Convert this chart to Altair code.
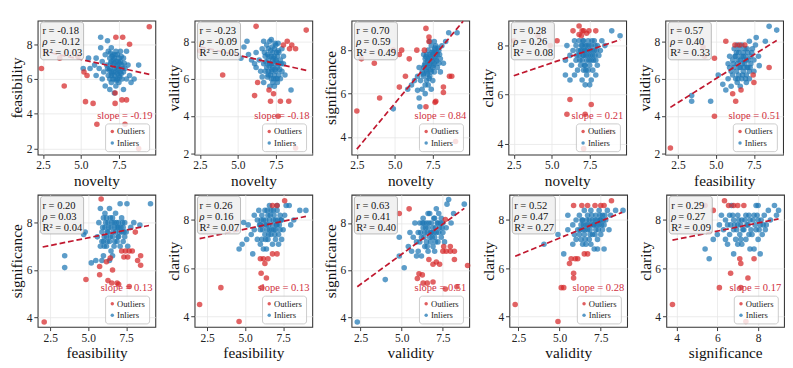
import altair as alt
import pandas as pd

FONT = "Liberation Serif"
RED = "#d62728"
BLUE = "#1f77b4"
LINE = "#c0182f"
SLOPE_TXT = "#d03040"

x_names = ["novelty", "novelty", "novelty", "novelty", "feasibility",
           "feasibility", "feasibility", "validity", "validity", "significance"]
y_names = ["feasibility", "validity", "significance", "clarity", "validity",
           "significance", "clarity", "significance", "clarity", "clarity"]

r_vals = ["-0.18", "-0.23", "0.70", "0.28", "0.57", "0.20", "0.26", "0.63", "0.52", "0.29"]
rho_vals = ["-0.12", "-0.09", "0.59", "0.26", "0.40", "0.03", "0.16", "0.41", "0.47", "0.27"]
r2_vals = ["0.03", "0.05", "0.49", "0.08", "0.33", "0.04", "0.07", "0.40", "0.27", "0.09"]
slope_vals = ["-0.19", "-0.18", "0.84", "0.21", "0.51", "0.13", "0.13", "0.51", "0.28", "0.17"]

# regression line end points (x0, y0, x1, y1)
line_x0 = [2.5, 2.5, 2.5, 2.5, 2.0, 2.0, 2.0, 2.3, 2.3, 3.8]
line_y0 = [7.60, 7.71, 3.45, 6.77, 4.47, 6.97, 7.23, 5.30, 6.50, 7.17]
line_x1 = [9.5, 9.5, 9.5, 9.5, 9.0, 9.0, 9.0, 8.8, 8.8, 9.0]
line_y1 = [6.27, 6.45, 9.33, 8.24, 8.05, 7.88, 8.15, 8.62, 8.32, 8.05]

axis_range = {
    "novelty": [2.15, 9.9],
    "feasibility_x": [1.67, 9.42],
    "validity_x": [1.95, 9.1],
    "significance_x": [3.5, 9.27],
}
y_ranges = [[1.66, 9.36], [1.95, 9.11], [3.2, 9.36], [3.56, 9.02], [1.95, 9.11],
            [3.6, 9.18], [3.58, 9.05], [3.6, 9.2], [3.58, 9.05], [3.58, 9.05]]

outliers = [
    [(2.4, 6.6), (3.9, 5.6), (5.2, 6.4), (5.4, 6.2), (5.3, 4.7), (5.8, 4.6), (6.05, 3.4),
     (7.3, 8.4), (7.75, 8.4), (8.2, 8.0), (9.5, 9.0), (7.25, 5.2), (7.25, 4.6), (7.7, 4.8),
     (8.0, 4.8), (7.9, 3.4), (8.8, 2.0), (3.6, 7.2), (4.8, 7.3)],
    [(2.5, 7.5), (4.0, 6.2), (6.2, 8.8), (6.3, 5.8), (6.1, 5.1), (7.05, 5.4), (7.35, 5.2),
     (7.15, 4.8), (7.8, 4.8), (8.35, 4.8), (7.65, 4.0), (8.0, 7.8), (8.25, 8.0), (8.55, 7.8),
     (8.4, 7.6), (8.8, 7.6), (9.5, 8.6), (8.8, 2.3)],
    [(2.5, 5.2), (2.8, 7.6), (3.65, 7.4), (4.0, 5.8), (4.9, 8.0), (5.3, 7.8), (5.45, 8.0),
     (5.95, 7.6), (6.45, 8.0), (5.3, 6.3), (5.7, 6.8), (7.05, 9.0), (7.25, 8.6), (7.25, 8.4),
     (6.95, 8.0), (7.05, 5.4), (7.65, 5.6), (7.7, 5.65), (8.2, 6.3), (8.2, 6.05), (8.6, 6.8),
     (8.75, 6.8), (9.0, 3.8)],
    [(2.5, 8.2), (4.1, 8.4), (4.9, 8.0), (5.35, 8.2), (6.4, 8.6), (6.8, 8.8), (6.8, 8.45),
     (7.1, 8.6), (6.95, 8.4), (7.0, 8.6), (7.3, 8.5), (7.45, 8.6), (7.9, 8.6), (6.0, 5.2),
     (6.2, 5.8), (7.2, 5.2), (7.6, 5.6), (7.1, 3.8), (8.8, 4.5)],
    [(2.0, 2.3), (4.15, 7.7), (4.25, 7.2), (4.9, 7.1), (4.9, 4.0), (5.65, 8.0), (6.25, 7.8),
     (6.55, 7.8), (6.9, 7.8), (6.1, 5.2), (6.3, 4.8), (6.65, 5.4), (7.45, 6.2), (7.5, 5.8),
     (8.5, 6.6)],
    [(2.1, 3.8), (4.85, 5.6), (5.75, 5.8), (5.85, 9.0), (5.75, 6.15), (6.2, 6.35), (6.45, 6.5),
     (6.3, 5.55), (6.6, 6.0), (6.55, 5.45), (6.9, 5.45), (7.0, 5.4), (7.2, 6.8), (7.45, 6.8),
     (7.7, 6.8), (7.9, 6.8), (7.35, 6.55), (7.6, 6.55), (8.25, 6.4), (8.45, 6.6), (8.45, 6.2),
     (7.7, 5.3), (8.1, 7.6)],
    [(2.0, 4.5), (3.4, 5.2), (4.6, 3.8), (6.05, 5.8), (6.1, 5.2), (6.4, 5.6), (6.0, 6.4),
     (6.2, 6.4), (6.5, 6.4), (6.3, 6.2), (6.8, 6.6), (7.1, 6.6), (6.8, 8.6), (7.1, 8.6),
     (7.6, 8.8)],
    [(4.85, 8.4), (5.45, 8.6), (6.05, 5.85), (6.25, 5.8), (5.95, 5.65), (6.3, 5.45), (6.55, 5.45),
     (6.9, 5.5), (6.65, 6.45), (6.9, 6.25), (7.1, 6.35), (7.3, 6.25), (7.5, 6.8), (7.7, 6.8),
     (7.95, 6.8), (8.2, 6.8), (7.55, 7.0), (7.95, 7.0), (8.2, 6.45), (9.0, 6.2), (7.65, 5.2),
     (8.35, 5.3), (7.65, 8.15)],
    [(2.3, 4.5), (4.9, 3.8), (5.1, 5.2), (5.25, 5.2), (5.6, 6.2), (5.7, 6.4), (5.95, 6.4),
     (6.1, 6.4), (5.85, 5.8), (5.85, 5.6), (6.5, 6.6), (6.7, 6.6), (5.85, 8.6), (6.35, 8.6),
     (6.7, 8.6), (7.15, 8.6), (7.5, 8.6), (7.7, 8.6), (8.15, 8.8)],
    [(3.8, 4.5), (5.4, 8.6), (5.8, 8.4), (6.1, 5.2), (6.35, 8.8), (6.55, 8.6), (6.8, 8.6),
     (7.0, 8.6), (7.3, 8.6), (6.65, 5.8), (7.1, 6.4), (7.15, 6.2), (7.15, 5.2), (7.5, 5.6),
     (7.8, 6.4), (7.4, 3.8)],
]

inliers = [
    [(5.15, 6.6), (5.5, 7.2), (5.6, 6.6), (5.9, 6.8), (6.0, 7.2), (6.0, 6.2), (6.2, 6.6), (6.3, 8.4),
     (6.3, 7.8), (6.4, 6.0), (6.4, 7.0), (6.5, 6.4), (6.6, 5.6), (6.6, 7.4), (6.7, 6.8), (6.75, 8.2),
     (6.8, 6.2), (6.8, 7.6), (6.9, 5.4), (6.9, 6.6), (6.9, 7.2), (7.0, 5.8), (7.0, 6.4), (7.0, 7.0),
     (7.0, 7.8), (7.1, 6.0), (7.1, 6.8), (7.1, 7.4), (7.2, 5.2), (7.2, 6.2), (7.2, 6.6), (7.2, 7.2),
     (7.3, 5.6), (7.3, 6.4), (7.3, 7.0), (7.3, 7.6), (7.4, 6.0), (7.4, 6.8), (7.4, 7.4), (7.5, 6.2),
     (7.5, 6.6), (7.5, 7.2), (7.5, 5.8), (7.6, 6.4), (7.6, 7.0), (7.6, 7.6), (7.7, 6.0), (7.7, 6.8),
     (7.8, 5.4), (7.8, 6.4), (7.8, 7.2), (7.9, 6.6), (8.0, 6.0), (8.0, 7.6), (8.1, 6.8), (8.2, 6.2),
     (8.3, 5.8), (8.5, 6.0), (8.8, 6.8), (7.0, 6.2), (7.2, 6.9), (7.4, 6.3), (6.9, 6.0),
     (6.85, 6.5), (6.95, 6.9), (7.05, 6.3), (7.15, 7.1), (7.25, 6.0), (7.35, 6.7), (7.45, 6.5),
     (7.55, 6.9), (7.65, 6.3), (7.75, 6.6), (7.05, 7.3), (7.35, 5.9), (7.55, 6.1), (6.75, 6.6),
     (7.15, 6.45), (7.45, 7.0), (7.65, 7.3), (6.95, 7.5), (7.85, 6.9), (7.25, 7.4)],
    [(5.2, 7.1), (5.4, 7.7), (5.6, 8.0), (5.7, 7.3), (5.9, 7.0), (6.1, 6.8), (6.2, 6.6), (6.2, 7.4),
     (6.4, 7.0), (6.5, 6.4), (6.6, 6.1), (6.6, 7.6), (6.7, 5.8), (6.7, 6.8), (6.7, 8.0), (6.8, 7.2),
     (6.9, 6.6), (6.9, 7.8), (7.0, 6.2), (7.0, 7.0), (7.0, 7.6), (7.1, 5.6), (7.1, 6.8), (7.1, 8.0),
     (7.2, 6.0), (7.2, 6.4), (7.2, 7.2), (7.2, 8.1), (7.3, 5.8), (7.3, 6.6), (7.3, 7.0), (7.3, 7.4),
     (7.4, 5.6), (7.4, 6.2), (7.4, 6.8), (7.4, 7.6), (7.5, 6.0), (7.5, 6.4), (7.5, 7.0), (7.5, 7.8),
     (7.6, 5.8), (7.6, 6.6), (7.6, 7.2), (7.7, 6.2), (7.7, 6.8), (7.7, 7.4), (7.8, 6.0), (7.8, 7.0),
     (7.9, 6.4), (7.9, 7.6), (8.0, 6.8), (8.0, 7.2), (8.1, 6.2), (8.5, 5.4), (7.0, 6.4), (7.2, 6.8),
     (7.4, 7.2), (6.8, 6.4), (7.6, 6.0),
     (6.85, 6.9), (6.95, 7.3), (7.05, 6.7), (7.15, 7.5), (7.25, 6.5), (7.35, 7.1), (7.45, 6.5),
     (7.55, 6.9), (7.65, 7.5), (7.75, 6.5), (7.15, 6.2), (7.45, 7.9), (7.35, 6.0), (6.95, 6.1),
     (7.65, 7.9), (7.05, 7.2), (7.25, 7.7), (7.55, 7.4), (7.85, 6.8), (6.75, 7.4)],
    [(4.9, 5.3), (5.85, 6.2), (6.1, 6.4), (6.3, 6.6), (6.5, 6.15), (6.6, 5.8), (6.65, 5.4), (6.5, 6.8),
     (6.7, 6.6), (6.8, 6.2), (6.8, 7.0), (6.9, 7.2), (6.9, 6.8), (7.0, 6.4), (7.0, 7.6), (7.0, 7.4),
     (7.1, 7.0), (7.1, 7.8), (7.1, 6.6), (7.2, 7.2), (7.2, 7.6), (7.2, 8.0), (7.3, 6.8), (7.3, 7.4),
     (7.3, 7.8), (7.4, 7.0), (7.4, 7.6), (7.4, 8.2), (7.5, 7.2), (7.5, 7.8), (7.5, 6.6), (7.6, 7.4),
     (7.6, 8.0), (7.6, 7.0), (7.7, 7.6), (7.7, 8.2), (7.8, 7.2), (7.8, 7.8), (7.9, 7.4), (7.9, 8.0),
     (8.0, 7.0), (8.0, 7.6), (8.1, 8.2), (8.2, 7.4), (8.35, 8.4), (8.55, 8.8), (9.1, 8.8), (7.2, 6.4),
     (7.4, 6.2), (6.9, 7.8), (7.0, 6.0), (6.6, 7.2), (7.6, 8.4), (7.3, 8.4),
     (6.95, 7.3), (7.05, 7.1), (7.15, 7.5), (7.25, 7.3), (7.35, 7.7), (7.45, 7.5), (7.55, 7.9),
     (7.65, 7.7), (7.75, 7.5), (7.85, 8.1), (7.15, 6.9), (7.35, 7.1), (7.55, 7.3), (7.05, 7.7),
     (7.45, 7.9), (7.65, 8.1), (7.25, 6.7), (6.85, 6.9), (7.95, 7.8), (7.75, 7.9)],
    [(5.9, 6.8), (5.9, 7.4), (6.2, 7.6), (6.3, 7.2), (6.4, 7.8), (6.5, 6.8), (6.6, 7.4), (6.6, 8.0),
     (6.7, 7.0), (6.8, 7.6), (6.8, 8.2), (6.9, 7.2), (6.9, 7.8), (7.0, 6.6), (7.0, 7.4), (7.0, 8.0),
     (7.1, 7.0), (7.1, 7.6), (7.1, 8.2), (7.2, 6.4), (7.2, 7.2), (7.2, 7.8), (7.3, 7.4), (7.3, 8.0),
     (7.3, 6.8), (7.4, 7.6), (7.4, 8.2), (7.4, 7.0), (7.5, 6.4), (7.5, 7.8), (7.5, 7.2), (7.6, 7.4),
     (7.6, 8.0), (7.7, 7.0), (7.7, 7.6), (7.8, 7.8), (7.8, 8.2), (7.9, 6.8), (7.9, 7.4), (8.0, 8.0),
     (8.1, 7.6), (8.2, 7.8), (8.3, 8.2), (8.5, 8.0), (8.95, 8.6), (9.5, 8.4), (6.0, 8.0), (6.5, 8.2),
     (7.6, 6.6), (8.0, 7.2), (6.2, 6.6), (7.0, 7.8), (7.2, 8.0),
     (6.75, 7.8), (6.85, 7.4), (6.95, 8.0), (7.05, 7.6), (7.15, 7.8), (7.25, 7.6), (7.35, 7.8),
     (7.45, 7.4), (7.55, 7.6), (7.65, 7.8), (7.75, 7.4), (7.85, 7.6), (7.95, 7.8), (7.15, 7.2),
     (7.45, 8.0), (6.65, 7.6), (7.05, 8.2), (7.65, 8.2), (7.25, 7.0), (7.85, 8.0)],
    [(3.4, 5.1), (3.4, 4.8), (4.65, 4.8), (5.15, 6.2), (5.45, 5.7), (5.65, 5.4), (5.8, 6.0), (5.8, 6.8),
     (5.9, 7.2), (6.0, 6.4), (6.0, 5.6), (6.1, 7.0), (6.2, 6.6), (6.2, 7.6), (6.3, 6.0), (6.3, 7.2),
     (6.4, 6.8), (6.4, 5.8), (6.5, 7.4), (6.5, 6.2), (6.6, 6.6), (6.6, 7.0), (6.7, 7.8), (6.7, 6.0),
     (6.8, 6.4), (6.8, 7.2), (6.9, 6.8), (6.9, 7.6), (7.0, 6.2), (7.0, 7.0), (7.1, 6.6), (7.1, 7.4),
     (7.2, 8.0), (7.2, 6.0), (7.3, 6.8), (7.3, 7.2), (7.4, 7.6), (7.5, 6.4), (7.5, 7.0), (7.6, 7.8),
     (7.65, 8.2), (7.85, 6.7), (7.8, 7.2), (8.25, 8.0), (8.5, 8.8), (9.0, 8.6), (6.1, 6.2), (6.6, 5.6),
     (7.0, 5.8), (6.4, 7.8), (5.9, 6.6), (6.8, 7.4), (7.2, 6.4),
     (6.15, 6.8), (6.25, 7.2), (6.35, 6.4), (6.45, 7.0), (6.55, 6.6), (6.65, 7.2), (6.75, 6.8),
     (6.85, 6.6), (6.95, 7.2), (7.05, 6.6), (7.15, 7.0), (7.25, 6.6), (6.35, 7.4), (6.55, 7.6),
     (6.75, 6.2), (6.95, 6.0), (7.05, 7.6), (6.45, 6.0), (6.85, 7.0), (7.35, 7.4)],
    [(3.45, 6.6), (3.45, 6.1), (4.7, 7.5), (4.8, 7.6), (5.2, 6.3), (5.5, 6.4), (5.6, 7.4), (5.7, 8.0),
     (5.8, 8.6), (5.8, 7.0), (5.9, 6.4), (5.9, 7.6), (6.0, 8.2), (6.0, 7.2), (6.1, 7.8), (6.1, 8.4),
     (6.2, 7.0), (6.2, 7.4), (6.3, 8.0), (6.3, 7.6), (6.4, 8.6), (6.4, 7.2), (6.5, 7.8), (6.5, 6.8),
     (6.6, 8.2), (6.6, 7.4), (6.7, 7.0), (6.7, 8.0), (6.8, 7.6), (6.8, 8.4), (6.9, 7.2), (6.9, 7.8),
     (7.0, 8.0), (7.0, 7.4), (7.1, 8.8), (7.1, 7.0), (7.2, 7.6), (7.2, 8.2), (7.3, 7.2), (7.3, 7.8),
     (7.4, 7.4), (7.4, 8.0), (7.5, 7.6), (7.55, 8.8), (7.6, 7.0), (7.8, 7.8), (8.0, 8.0), (8.4, 7.9),
     (9.1, 8.8), (6.0, 6.6), (6.6, 6.6), (6.2, 8.2), (5.9, 7.2), (6.4, 6.4),
     (5.95, 7.8), (6.05, 7.4), (6.15, 8.0), (6.25, 7.6), (6.35, 7.8), (6.45, 7.4), (6.55, 8.0),
     (6.65, 7.6), (6.75, 7.8), (6.85, 8.0), (6.95, 7.4), (7.05, 7.6), (7.15, 7.8), (7.25, 8.0),
     (7.35, 7.6), (6.45, 8.2), (6.75, 7.2), (6.25, 7.2), (6.05, 7.0), (7.0, 7.8)],
    [(4.6, 6.8), (4.8, 7.0), (5.1, 7.2), (4.9, 7.9), (5.2, 7.8), (5.4, 7.4), (5.5, 6.6), (5.6, 8.2),
     (5.6, 7.6), (5.8, 7.2), (5.8, 8.0), (5.9, 8.4), (6.0, 7.6), (6.0, 7.8), (6.1, 8.2), (6.1, 7.2),
     (6.2, 6.8), (6.2, 8.0), (6.3, 7.4), (6.3, 8.4), (6.4, 7.8), (6.4, 6.8), (6.5, 8.2), (6.5, 7.2),
     (6.6, 7.6), (6.6, 8.0), (6.7, 7.4), (6.7, 8.4), (6.8, 7.8), (6.8, 7.0), (6.9, 8.2), (6.9, 7.6),
     (7.0, 8.0), (7.0, 7.2), (7.1, 7.8), (7.1, 8.4), (7.2, 7.4), (7.2, 7.0), (7.3, 8.2), (7.3, 7.6),
     (7.4, 8.0), (7.5, 7.6), (7.6, 8.2), (7.7, 8.6), (7.9, 8.6), (8.0, 7.8), (8.2, 8.0), (8.6, 8.4),
     (9.0, 8.4), (7.4, 7.2), (6.0, 7.0), (6.6, 8.6), (7.1, 8.6),
     (5.95, 7.8), (6.05, 8.0), (6.15, 7.6), (6.25, 7.8), (6.35, 8.0), (6.45, 7.6), (6.55, 7.8),
     (6.65, 8.2), (6.75, 7.6), (6.85, 8.0), (6.95, 7.4), (7.05, 7.8), (7.15, 8.0), (7.25, 7.8),
     (6.35, 7.2), (6.55, 7.4), (7.35, 8.0), (6.85, 8.4), (6.45, 8.4), (7.0, 7.6)],
    [(2.3, 3.8), (4.0, 5.6), (4.85, 6.6), (4.85, 7.4), (5.15, 6.1), (5.4, 7.0), (5.5, 7.6), (5.6, 6.8),
     (5.7, 7.4), (5.8, 8.0), (5.9, 7.2), (6.0, 7.6), (6.0, 6.8), (6.1, 8.0), (6.2, 7.4), (6.2, 6.6),
     (6.3, 7.8), (6.3, 8.2), (6.4, 7.0), (6.4, 7.6), (6.5, 8.0), (6.5, 7.2), (6.6, 7.8), (6.6, 6.8),
     (6.7, 8.4), (6.7, 7.4), (6.8, 7.6), (6.8, 8.0), (6.9, 7.0), (6.9, 7.8), (7.0, 8.2), (7.0, 7.4),
     (7.1, 8.6), (7.1, 7.6), (7.2, 8.0), (7.2, 7.2), (7.3, 7.8), (7.4, 8.2), (7.4, 7.4), (7.5, 7.6),
     (7.5, 8.0), (7.6, 7.2), (7.7, 7.8), (7.75, 8.8), (7.85, 9.0), (8.0, 8.0), (8.15, 8.4), (8.8, 8.8),
     (6.1, 7.2), (5.9, 6.6), (6.6, 8.4), (7.0, 6.8),
     (6.15, 7.6), (6.25, 8.0), (6.35, 7.4), (6.45, 7.8), (6.55, 7.6), (6.65, 8.0), (6.75, 7.6),
     (6.85, 7.4), (6.95, 8.2), (7.05, 7.8), (7.15, 8.0), (7.25, 7.6), (7.35, 8.0), (7.45, 7.8),
     (6.55, 7.0), (6.75, 7.2), (7.05, 7.2), (6.35, 8.0), (7.25, 8.4), (6.95, 7.6)],
    [(4.05, 7.0), (4.9, 7.4), (5.25, 6.6), (5.5, 8.2), (5.5, 7.6), (5.8, 7.0), (5.8, 7.8), (5.9, 7.4),
     (6.0, 8.0), (6.0, 7.2), (6.1, 7.6), (6.2, 8.2), (6.2, 7.4), (6.3, 7.8), (6.3, 7.2), (6.4, 8.0),
     (6.4, 7.6), (6.5, 8.4), (6.5, 7.4), (6.6, 7.8), (6.6, 7.0), (6.7, 8.2), (6.7, 7.6), (6.8, 8.0),
     (6.8, 7.2), (6.9, 7.8), (6.9, 8.4), (7.0, 7.4), (7.0, 8.0), (7.1, 6.8), (7.1, 7.8), (7.2, 8.2),
     (7.2, 7.6), (7.3, 7.2), (7.3, 8.0), (7.4, 7.8), (7.4, 8.4), (7.5, 7.4), (7.5, 8.0), (7.6, 7.6),
     (7.6, 8.2), (7.7, 6.8), (7.7, 7.8), (7.8, 8.0), (7.9, 8.4), (8.0, 7.6), (8.1, 8.2), (8.4, 8.4),
     (8.85, 8.4), (7.3, 6.8), (6.4, 7.0), (6.9, 7.0),
     (6.25, 7.6), (6.35, 8.0), (6.45, 7.8), (6.55, 7.6), (6.65, 8.0), (6.75, 7.8), (6.85, 7.6),
     (6.95, 8.2), (7.05, 7.8), (7.15, 8.0), (7.25, 7.8), (7.35, 7.6), (7.45, 8.0), (7.55, 7.8),
     (7.65, 8.0), (6.55, 7.2), (6.85, 7.4), (7.15, 7.4), (7.45, 8.2), (7.75, 8.2)],
    [(5.4, 6.8), (5.6, 6.4), (5.8, 7.2), (6.0, 7.4), (6.1, 7.8), (6.2, 8.2), (6.3, 7.6), (6.4, 8.0),
     (6.4, 7.2), (6.5, 7.8), (6.6, 8.2), (6.6, 7.4), (6.7, 8.6), (6.8, 7.6), (6.8, 8.0), (6.8, 6.6),
     (6.9, 7.2), (7.0, 7.8), (7.0, 8.2), (7.1, 7.4), (7.2, 8.0), (7.2, 7.0), (7.3, 7.6), (7.4, 8.2),
     (7.4, 7.2), (7.5, 7.8), (7.6, 8.0), (7.6, 6.8), (7.7, 7.4), (7.8, 8.2), (7.8, 6.8), (7.9, 7.6),
     (8.0, 8.0), (8.0, 8.6), (8.1, 6.6), (8.1, 7.8), (8.2, 7.4), (8.3, 8.2), (8.4, 7.8), (8.5, 8.4),
     (8.6, 8.0), (8.8, 8.6), (8.9, 8.2), (9.0, 8.4), (7.9, 8.6), (6.5, 7.0), (7.0, 7.0), (8.0, 7.2),
     (6.65, 7.8), (6.75, 8.2), (6.85, 7.8), (6.95, 7.6), (7.05, 8.0), (7.15, 7.8), (7.25, 7.6),
     (7.35, 8.0), (7.45, 7.8), (7.55, 8.2), (7.65, 7.6), (7.75, 8.0), (7.85, 7.8), (7.95, 8.2),
     (8.05, 7.6), (8.15, 8.0), (8.25, 7.8), (8.35, 7.6), (7.15, 7.2), (7.55, 7.4)],
]

W = 123
HEIGHTS = [140, 138]
one = pd.DataFrame({"k": [0]})


def x_range_for(i):
    n = x_names[i]
    return axis_range["novelty"] if n == "novelty" else axis_range[n + "_x"]


def ticks_for(name):
    if name in ("significance", "clarity"):
        return [4, 6, 8]
    return [2, 4, 6, 8]


def panel(i, h):
    rows = [{"x": a, "y": b, "group": "Inliers"} for a, b in inliers[i]]
    rows += [{"x": a, "y": b, "group": "Outliers"} for a, b in outliers[i]]
    pts = pd.DataFrame(rows)
    xs = alt.Scale(domain=x_range_for(i), nice=False, zero=False)
    ys = alt.Scale(domain=y_ranges[i], nice=False, zero=False)
    if x_names[i] == "significance":
        xaxis = alt.Axis(title=x_names[i], values=[4, 6, 8], format="d")
    else:
        xaxis = alt.Axis(title=x_names[i], values=[2.5, 5.0, 7.5], format=".1f")
    yaxis = alt.Axis(title=y_names[i], values=ticks_for(y_names[i]), format="d")

    points = alt.Chart(pts).mark_circle(size=34, opacity=0.72).encode(
        x=alt.X("x:Q", scale=xs, axis=xaxis),
        y=alt.Y("y:Q", scale=ys, axis=yaxis),
        color=alt.Color("group:N", scale=alt.Scale(domain=["Outliers", "Inliers"],
                                                   range=[RED, BLUE]), legend=None),
    )
    ln = pd.DataFrame({"x": [line_x0[i], line_x1[i]], "y": [line_y0[i], line_y1[i]]})
    line = alt.Chart(ln).mark_line(color=LINE, strokeDash=[6, 3], strokeWidth=1.8).encode(
        x="x:Q", y="y:Q")

    box = alt.Chart(one).mark_rect(fill="#eeeeee", fillOpacity=0.85, stroke="#a8a8a8",
                                   strokeWidth=0.8, cornerRadius=3).encode(
        x=alt.value(3), x2=alt.value(48), y=alt.value(1.5), y2=alt.value(41))
    tstyle = dict(align="left", baseline="alphabetic", font=FONT, fontSize=11, color="#111")
    t1 = alt.Chart(one).mark_text(text=f"r = {r_vals[i]}", **tstyle).encode(
        x=alt.value(5), y=alt.value(14.5))
    t2a = alt.Chart(one).mark_text(text="ρ", fontStyle="italic", **tstyle).encode(
        x=alt.value(5), y=alt.value(26))
    t2b = alt.Chart(one).mark_text(text=f"= {rho_vals[i]}", **tstyle).encode(
        x=alt.value(12.5), y=alt.value(26))
    t3 = alt.Chart(one).mark_text(text=f"R² = {r2_vals[i]}", **tstyle).encode(
        x=alt.value(5), y=alt.value(37.5))
    slope = alt.Chart(one).mark_text(text=f"slope = {slope_vals[i]}", align="right",
                                     baseline="alphabetic", font=FONT, fontSize=11,
                                     color=SLOPE_TXT).encode(
        x=alt.value(W - 3), y=alt.value(h - 37))

    lx0, lx1 = W - 52, W - 6
    ly0, ly1 = h - 32, h - 3
    lbox = alt.Chart(one).mark_rect(fill="white", fillOpacity=0.8, stroke="#bdbdbd",
                                    strokeWidth=0.8, cornerRadius=3).encode(
        x=alt.value(lx0), x2=alt.value(lx1), y=alt.value(ly0), y2=alt.value(ly1))
    d1 = alt.Chart(one).mark_circle(size=13, opacity=0.75, color=RED).encode(
        x=alt.value(lx0 + 7), y=alt.value(ly0 + 8))
    d2 = alt.Chart(one).mark_circle(size=13, opacity=0.75, color=BLUE).encode(
        x=alt.value(lx0 + 7), y=alt.value(ly0 + 20))
    lstyle = dict(align="left", baseline="middle", font=FONT, fontSize=9, color="#222")
    l1 = alt.Chart(one).mark_text(text="Outliers", **lstyle).encode(
        x=alt.value(lx0 + 12), y=alt.value(ly0 + 8))
    l2 = alt.Chart(one).mark_text(text="Inliers", **lstyle).encode(
        x=alt.value(lx0 + 12), y=alt.value(ly0 + 20))

    return alt.layer(points, line, box, t1, t2a, t2b, t3, slope, lbox, d1, d2, l1, l2).properties(
        width=W, height=h)


row1 = alt.hconcat(*[panel(i, HEIGHTS[0]) for i in range(5)], spacing=9).resolve_scale(
    x="independent", y="independent")
row2 = alt.hconcat(*[panel(i, HEIGHTS[1]) for i in range(5, 10)], spacing=9).resolve_scale(
    x="independent", y="independent")

chart = alt.vconcat(row1, row2, spacing=5).properties(
    padding={"left": 0, "top": 1, "right": 0, "bottom": 0}
).configure_view(
    stroke="#333333", strokeWidth=1.1
).configure_axis(
    labelFont=FONT, titleFont=FONT, labelFontSize=12, titleFontSize=16,
    titleFontWeight="normal", labelColor="#222", titleColor="#111",
    grid=True, gridColor="#e6e6e6", gridWidth=0.8, domain=False,
    tickColor="#333333", tickSize=4, labelPadding=2, titlePadding=2
)

chart.save("out.html", embed_options={"renderer": "svg", "actions": False})
